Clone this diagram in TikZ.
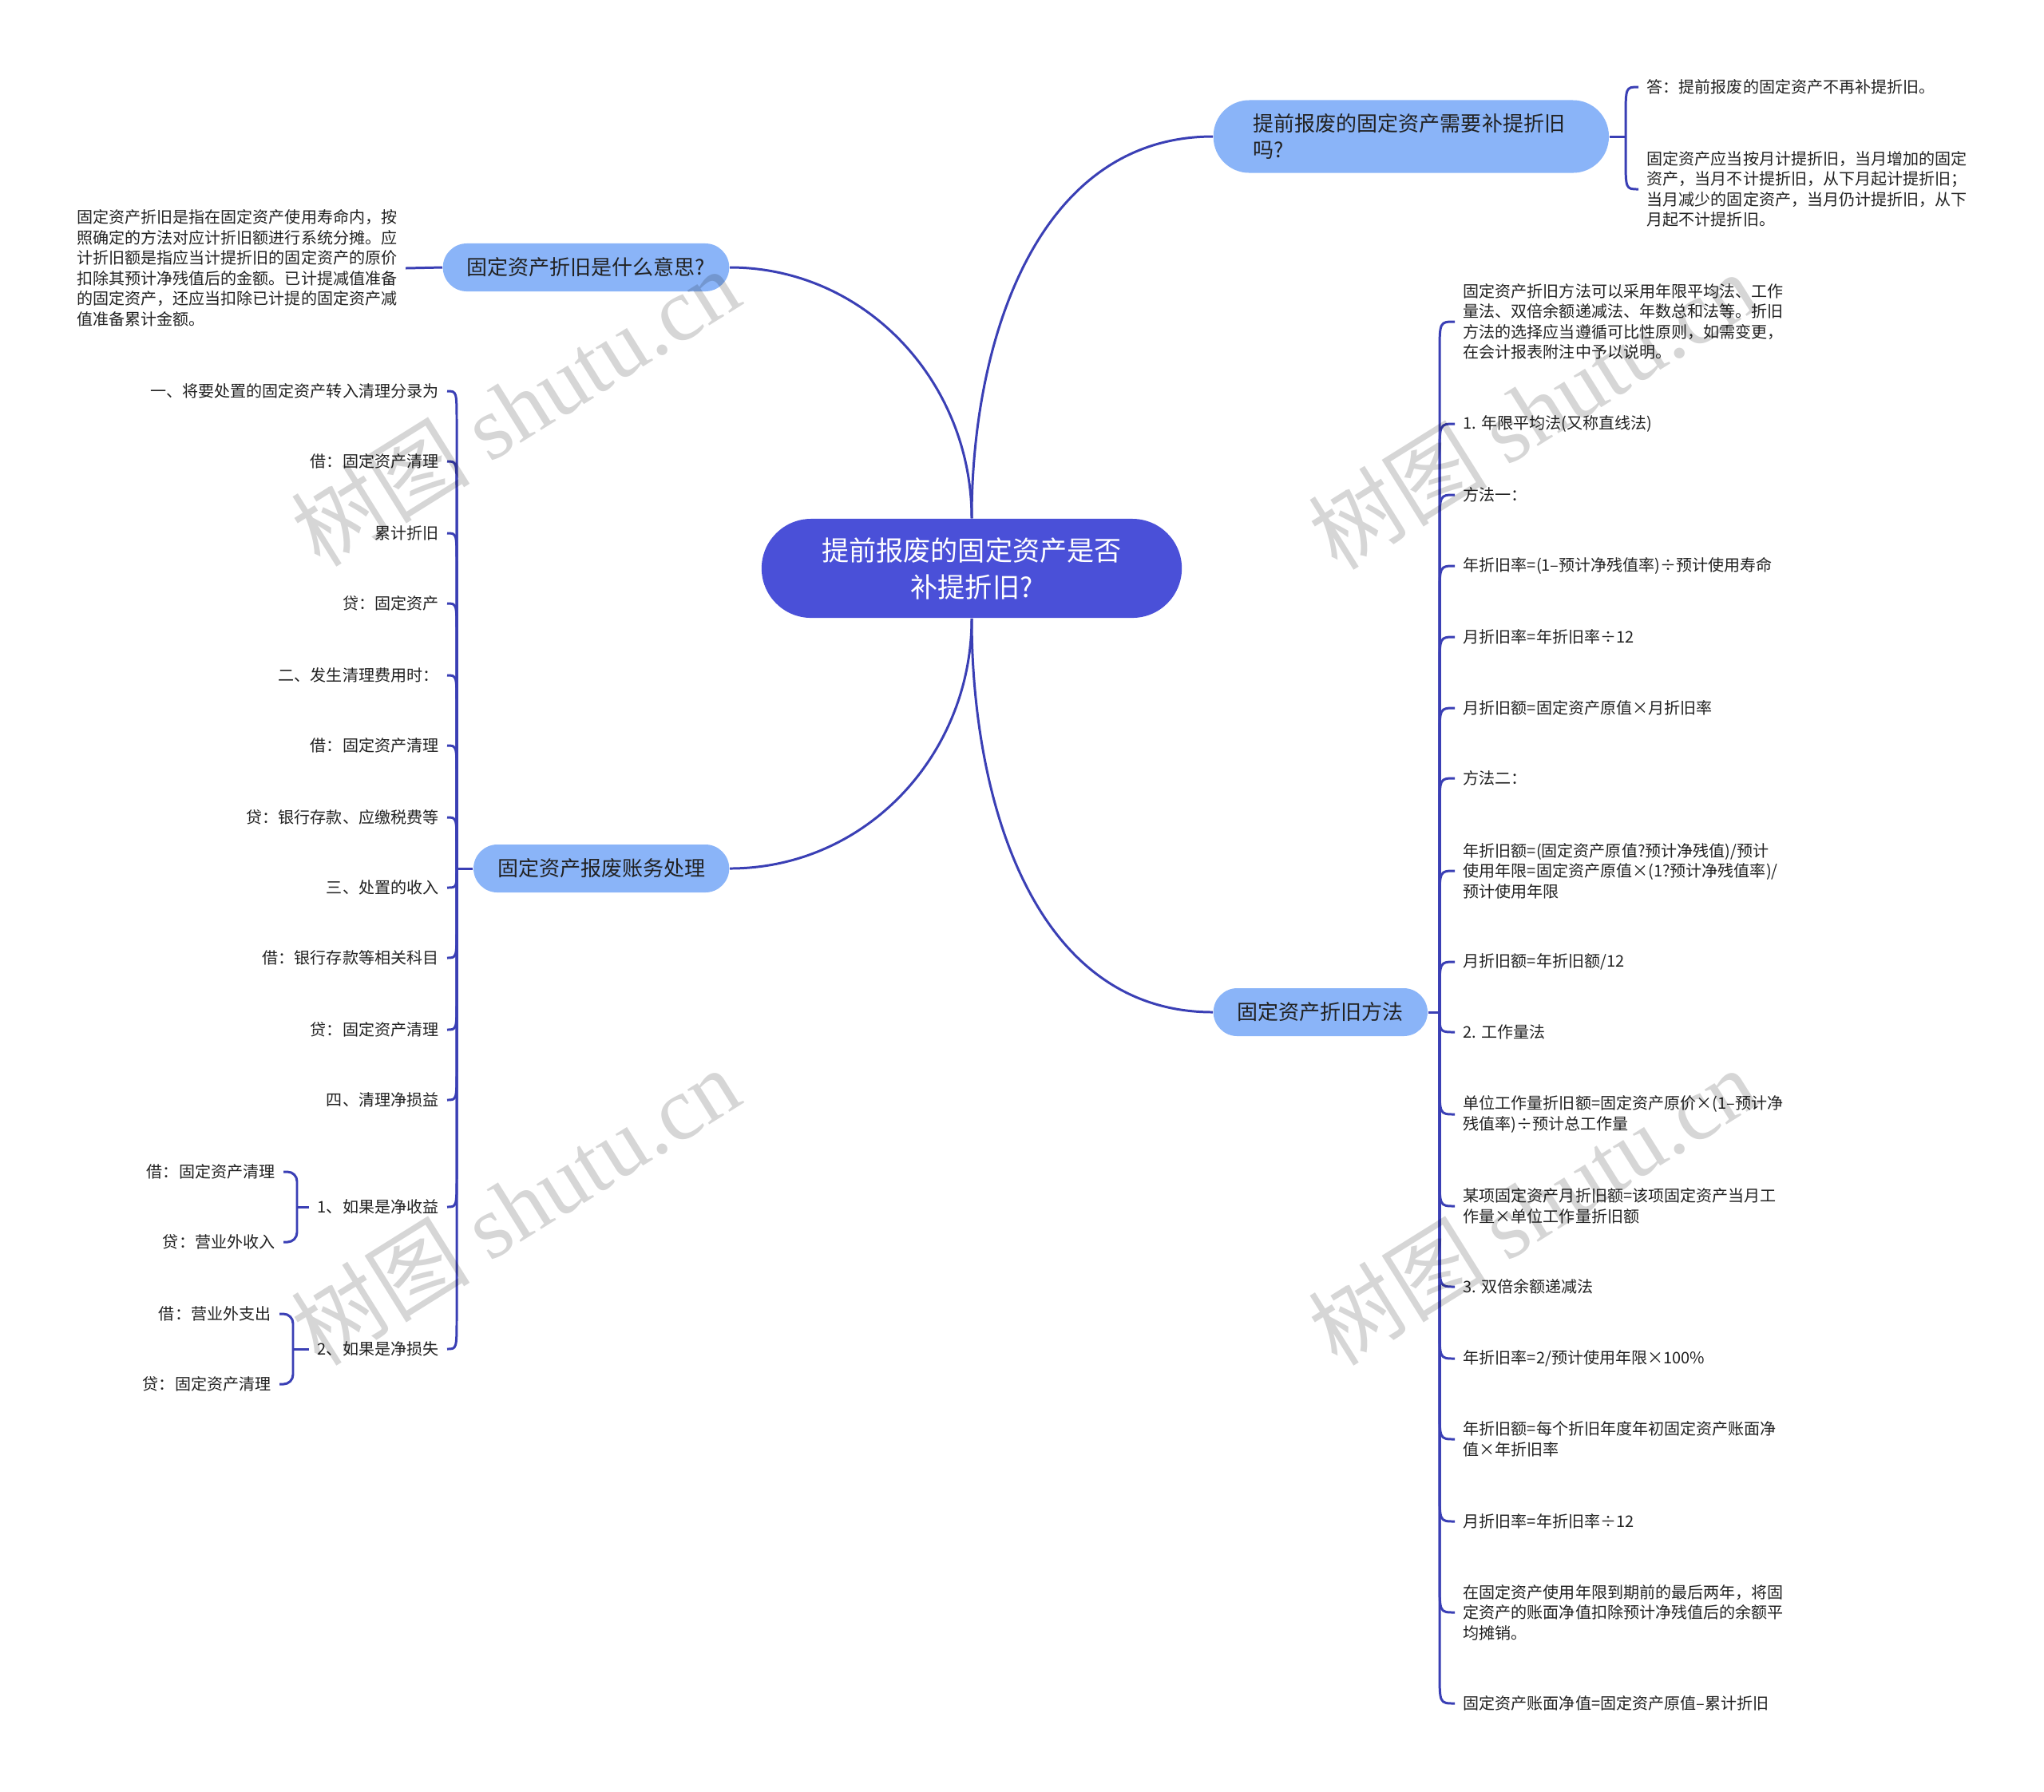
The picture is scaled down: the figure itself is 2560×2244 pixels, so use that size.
\documentclass[tikz,border=0pt]{standalone}
\usepackage{fontspec}
\setmainfont{Noto Sans CJK SC}
\newfontfamily\wmlatin{Liberation Serif}

\definecolor{rootblue}{HTML}{4A50D8}
\definecolor{topicblue}{HTML}{8AB4F8}
\definecolor{linkblue}{HTML}{3A3FB5}
\definecolor{inkgray}{HTML}{222222}

\tikzset{
  rootbox/.style={fill=rootblue, text=white, align=center,
    font=\fontsize{9.7}{13.1}\selectfont,
    minimum width=5.26cm, minimum height=1.24cm, rounded corners=0.62cm},
  topicbox/.style={fill=topicblue, text=inkgray,
    font=\fontsize{7.4}{9.4}\selectfont,
    minimum height=0.6cm, inner xsep=0.3cm, rounded corners=0.3cm},
  leaf/.style={text=inkgray, align=left, font=\fontsize{5.7}{7.25}\selectfont,
    inner xsep=0.1cm, inner ysep=0pt},
  branch/.style={draw=linkblue, line width=0.85pt},
  watermark/.style={text=black, text opacity=0.16, rotate=32,
    font=\fontsize{32}{32}\selectfont},
}

\begin{document}
\begin{tikzpicture}[x=0.01cm, y=-0.01cm]
  % page, 2560 x 2244 px
  \fill[white] (0,0) rectangle (2560,2244);
  \useasboundingbox (0,0) rectangle (2560,2244);

  % centre and first level
  \node[rootbox] (root) at (1217,712) {提前报废的固定资产是否\\补提折旧?};
  \node[topicbox, anchor=east] (meaning) at (914,335) {固定资产折旧是什么意思?};
  \node[topicbox, anchor=east] (disposal) at (914,1088) {固定资产报废账务处理};
  \node[topicbox, anchor=west] (methods) at (1519,1268) {固定资产折旧方法};
  \node[topicbox, anchor=west, minimum width=4.95cm, minimum height=0.91cm,
    rounded corners=0.45cm, text width=3.95cm, align=left, inner xsep=0.5cm]
    (scrap) at (1519,171) {提前报废的固定资产需要补提折旧\\吗?};

  \draw[branch] (root.north) to[out=90, in=0] (meaning.east);
  \draw[branch] (root.north) to[out=90, in=180] (scrap.west);
  \draw[branch] (root.south) to[out=-90, in=0] (disposal.east);
  \draw[branch] (root.south) to[out=-90, in=180] (methods.west);

  % what depreciation means
  \node[leaf, anchor=east] (meaningtxt) at (508,336)
    {固定资产折旧是指在固定资产使用寿命内，按\\照确定的方法对应计折旧额进行系统分摊。应\\计折旧额是指应当计提折旧的固定资产的原价\\扣除其预计净残值后的金额。已计提减值准备\\的固定资产，还应当扣除已计提的固定资产减\\值准备累计金额。};
  \draw[branch] (meaningtxt.east) -- (meaning.west);

  % early scrapping
  \draw[branch] (scrap.east) -- (2036,171) coordinate (sspine);
  \node[leaf, anchor=west] (answer) at (2052,109) {答：提前报废的固定资产不再补提折旧。};
  \node[leaf, anchor=west] (rule) at (2052,237)
    {固定资产应当按月计提折旧，当月增加的固定\\资产，当月不计提折旧，从下月起计提折旧；\\当月减少的固定资产，当月仍计提折旧，从下\\月起不计提折旧。};
  \draw[branch] (sspine) -- (2036,149) .. controls (2036,109) .. (answer.west);
  \draw[branch] (sspine) -- (2036,197) .. controls (2036,237) .. (rule.west);

  % methods
  \draw[branch] (methods.east) -- (1803,1268) coordinate (mspine);
  \foreach \y/\txt [count=\i] in {
    403/{固定资产折旧方法可以采用年限平均法、工作\\量法、双倍余额递减法、年数总和法等。折旧\\方法的选择应当遵循可比性原则，如需变更，\\在会计报表附注中予以说明。},
    531/{1. 年限平均法(又称直线法)},
    620/{方法一：},
    709/{年折旧率=(1–预计净残值率)÷预计使用寿命},
    798/{月折旧率=年折旧率÷12},
    887/{月折旧额=固定资产原值×月折旧率},
    975/{方法二：},
    1091/{年折旧额=(固定资产原值?预计净残值)/预计\\使用年限=固定资产原值×(1?预计净残值率)/\\预计使用年限},
    1205/{月折旧额=年折旧额/12},
    1293/{2. 工作量法},
    1396/{单位工作量折旧额=固定资产原价×(1–预计净\\残值率)÷预计总工作量},
    1511/{某项固定资产月折旧额=该项固定资产当月工\\作量×单位工作量折旧额},
    1612/{3. 双倍余额递减法},
    1702/{年折旧率=2/预计使用年限×100\%},
    1803/{年折旧额=每个折旧年度年初固定资产账面净\\值×年折旧率},
    1906/{月折旧率=年折旧率÷12},
    2020/{在固定资产使用年限到期前的最后两年，将固\\定资产的账面净值扣除预计净残值后的余额平\\均摊销。},
    2134/{固定资产账面净值=固定资产原值–累计折旧}} {
    \node[leaf, anchor=west] (m\i) at (1822,\y) {\txt};
    \pgfmathsetmacro{\hookat}{\y<1268 ? min(\y+40,1268) : max(\y-40,1268)}
    \draw[branch] (mspine) -- (1803,\hookat) .. controls (1803,\y) .. (m\i.west);
  }

  % disposal entries
  \draw[branch] (disposal.west) -- (572,1088) coordinate (dspine);
  \foreach \y/\txt [count=\i] in {
    490/{一、将要处置的固定资产转入清理分录为},
    578/{借：固定资产清理},
    668/{累计折旧},
    756/{贷：固定资产},
    846/{二、发生清理费用时：},
    934/{借：固定资产清理},
    1024/{贷：银行存款、应缴税费等},
    1112/{三、处置的收入},
    1200/{借：银行存款等相关科目},
    1290/{贷：固定资产清理},
    1378/{四、清理净损益},
    1512/{1、如果是净收益},
    1690/{2、如果是净损失}} {
    \node[leaf, anchor=east] (d\i) at (560,\y) {\txt};
    \pgfmathsetmacro{\hookat}{\y<1088 ? min(\y+40,1088) : max(\y-40,1088)}
    \draw[branch] (dspine) -- (572,\hookat) .. controls (572,\y) .. (d\i.east);
  }

  % net gain / net loss
  \node[leaf, anchor=east] (gaindr) at (355,1468) {借：固定资产清理};
  \node[leaf, anchor=east] (gaincr) at (355,1556) {贷：营业外收入};
  \node[leaf, anchor=east] (lossdr) at (350,1646) {借：营业外支出};
  \node[leaf, anchor=east] (losscr) at (350,1734) {贷：固定资产清理};
  \draw[branch, rounded corners=0.12cm] (gaindr.east) -| (372,1512) |- (gaincr.east);
  \draw[branch] (372,1512) -- (d12.west);
  \draw[branch, rounded corners=0.12cm] (lossdr.east) -| (367,1690) |- (losscr.east);
  \draw[branch] (367,1690) -- (d13.west);

  % watermark
  \foreach \wx/\wy [count=\w] in {645/510, 1919/514, 645/1511, 1919/1511}
    \node[watermark] (wm\w) at (\wx,\wy) {树图 {\wmlatin shutu.cn}};
\end{tikzpicture}
\end{document}
